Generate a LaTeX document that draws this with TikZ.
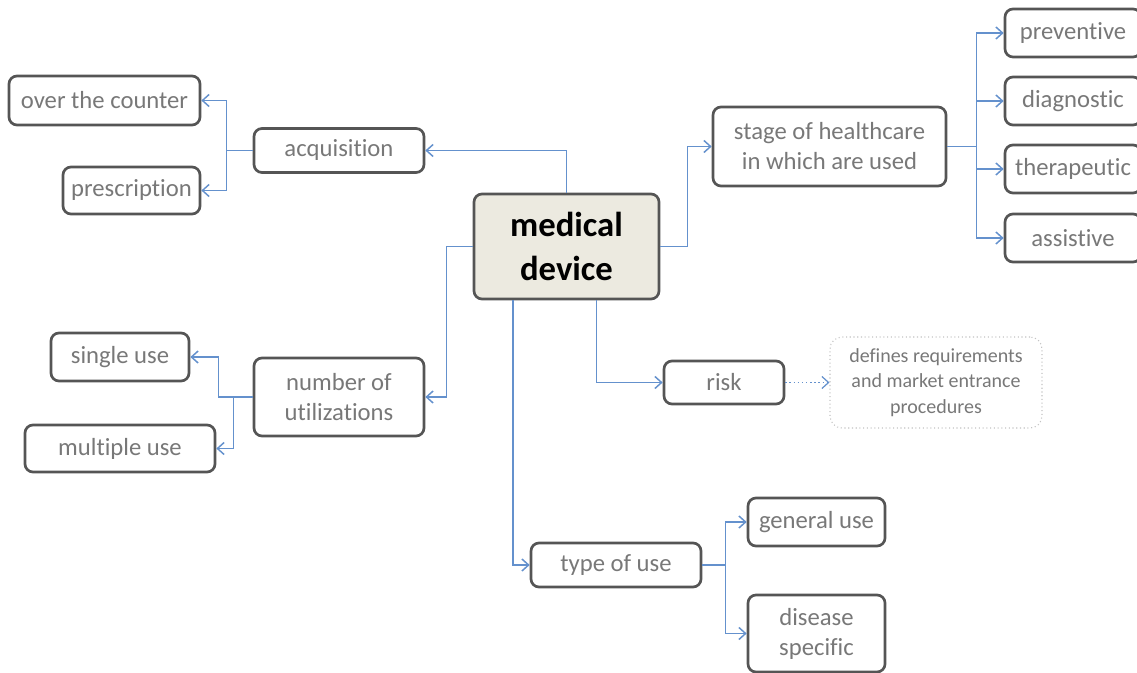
\documentclass[tikz,border=0pt]{standalone}
\usepackage{fontspec}
\setmainfont{Carlito}[Ligatures={NoCommon}]
\usetikzlibrary{arrows.meta}
\definecolor{cblue}{RGB}{100,145,205}
\definecolor{boxline}{RGB}{85,85,85}
\definecolor{txtgray}{RGB}{120,120,120}
\definecolor{mdfill}{RGB}{236,234,224}
\definecolor{lightline}{RGB}{195,195,195}
\tikzset{
  box/.style={draw=boxline, line width=2pt, rounded corners=6pt, fill=white,
    text=txtgray, align=center, inner sep=0pt,
    font=\fontsize{18.5}{22.5}\selectfont},
  mainbox/.style={box, fill=mdfill, text=black,
    font=\fontsize{26}{33}\selectfont\bfseries},
  notebox/.style={draw=lightline, dotted, line width=0.8pt, rounded corners=9pt,
    text=txtgray, align=center, inner sep=0pt,
    font=\fontsize{15}{19}\selectfont},
  conn/.style={draw=cblue, line width=1.1pt, -{Straight Barb[length=5pt,width=9pt]}},
  line/.style={draw=cblue, line width=1.1pt},
}
\begin{document}
\begin{tikzpicture}[x=0.75pt,y=-0.75pt]
\useasboundingbox (0,0) rectangle (1137,673);
\fill[white] (0,0) rectangle (1137,673);
% nodes
\node[mainbox, minimum width=138.75pt, minimum height=78.75pt] (md) at (566.5,246.5) {medical\\device};
\node[box, minimum width=127.5pt, minimum height=33pt] (acq) at (339,150.5) {acquisition};
\node[box, minimum width=143.25pt, minimum height=36.75pt] (otc) at (104.5,100.5) {over the counter};
\node[box, minimum width=102.75pt, minimum height=35.25pt] (presc) at (131.5,190.5) {prescription};
\node[box, minimum width=174.75pt, minimum height=59.25pt] (stage) at (829.5,146.5) {stage of healthcare\\in which are used};
\node[box, minimum width=102pt, minimum height=36pt] (prev) at (1073,33) {preventive};
\node[box, minimum width=102pt, minimum height=36pt] (diag) at (1073,101) {diagnostic};
\node[box, minimum width=102pt, minimum height=36pt] (ther) at (1073,169) {therapeutic};
\node[box, minimum width=102pt, minimum height=36pt] (assi) at (1073,238) {assistive};
\node[box, minimum width=90pt, minimum height=32.25pt] (risk) at (724,382.5) {risk};
\node[notebox, minimum width=159pt, minimum height=68.25pt] (def) at (936,382.5) {defines requirements\\and market entrance\\procedures};
\node[box, minimum width=127.5pt, minimum height=58.5pt] (num) at (339,397) {number of\\utilizations};
\node[box, minimum width=103.5pt, minimum height=36pt] (single) at (120,357) {single use};
\node[box, minimum width=142.5pt, minimum height=35.25pt] (multi) at (120,448.5) {multiple use};
\node[box, minimum width=127.5pt, minimum height=33pt] (type) at (616,565) {type of use};
\node[box, minimum width=102.75pt, minimum height=36pt] (gen) at (816.5,522) {general use};
\node[box, minimum width=102.75pt, minimum height=57.75pt] (dis) at (816.5,633.5) {disease\\specific};
% connectors
\draw[conn] (md.north) |- (acq.east);
\coordinate (ja) at ([xshift=-19.5pt]acq.west);
\draw[line] (acq.west) -- (ja);
\draw[conn] (ja) |- (otc.east);
\draw[conn] (ja) |- (presc.east);
\coordinate (jm) at ([xshift=20.25pt]md.east);
\draw[conn] (md.east) -- (jm) |- (stage.west);
\coordinate (js) at ([xshift=21.75pt]stage.east);
\draw[line] (stage.east) -- (js);
\draw[conn] (js) |- (prev.west);
\draw[conn] (js) |- (diag.west);
\draw[conn] (js) |- (ther.west);
\draw[conn] (js) |- (assi.west);
\coordinate (jw) at ([xshift=-19.5pt]md.west);
\draw[conn] (md.west) -- (jw) |- (num.east);
\coordinate (jn1) at ([xshift=-25.5pt]num.west);
\coordinate (jn2) at ([xshift=-14.25pt]num.west);
\draw[conn] (num.west) -- (jn1) |- (single.east);
\draw[conn] (jn2) |- (multi.east);
\coordinate (jb1) at ([xshift=-40.1pt]md.south);
\coordinate (jb2) at ([xshift=22.5pt]md.south);
\draw[conn] (jb1) |- (type.west);
\draw[conn] (jb2) |- (risk.west);
\draw[conn, dotted, line width=0.9pt] (risk.east) -- (def.west);
\coordinate (jt) at ([xshift=17.25pt]type.east);
\draw[line] (type.east) -- (jt);
\draw[conn] (jt) |- (gen.west);
\draw[conn] (jt) |- (dis.west);
\end{tikzpicture}
\end{document}
